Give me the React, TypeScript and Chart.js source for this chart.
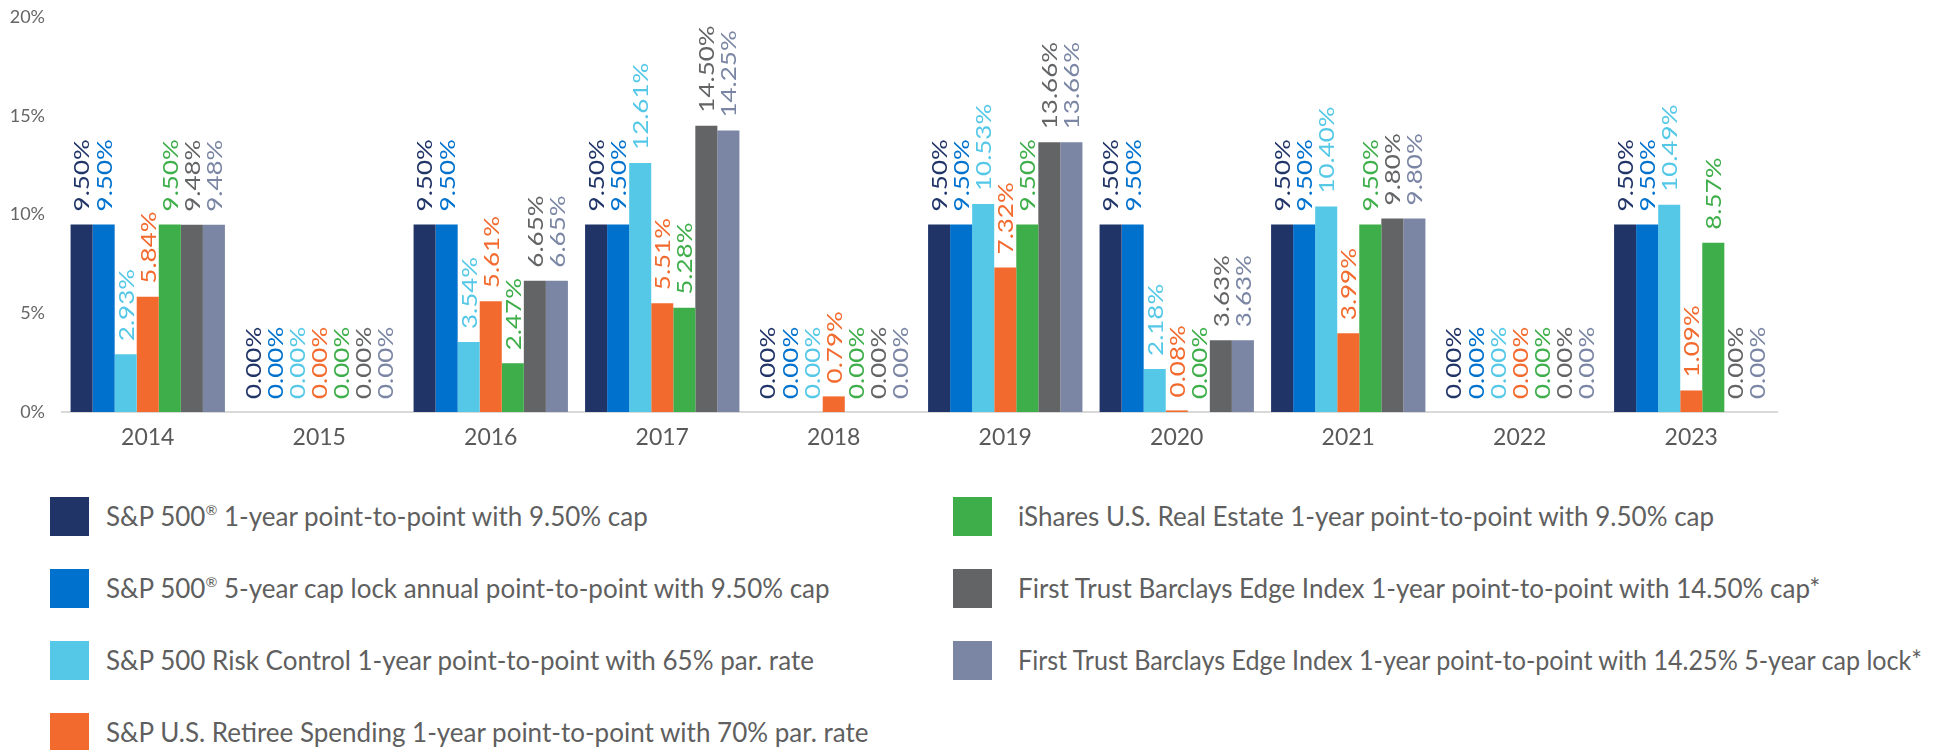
import React, { useEffect, useRef } from "react";
import { Chart, registerables } from "chart.js";

Chart.register(...registerables);

const years = ["2014", "2015", "2016", "2017", "2018", "2019", "2020", "2021", "2022", "2023"];

const sp500OneYear = [9.5, 0, 9.5, 9.5, 0, 9.5, 9.5, 9.5, 0, 9.5];
const sp500FiveYearLock = [9.5, 0, 9.5, 9.5, 0, 9.5, 9.5, 9.5, 0, 9.5];
const sp500RiskControl = [2.93, 0, 3.54, 12.61, 0, 10.53, 2.18, 10.4, 0, 10.49];
const retireeSpending = [5.84, 0, 5.61, 5.51, 0.79, 7.32, 0.08, 3.99, 0, 1.09];
const realEstate = [9.5, 0, 2.47, 5.28, 0, 9.5, 0, 9.5, 0, 8.57];
const edgeIndexCap = [9.48, 0, 6.65, 14.5, 0, 13.66, 3.63, 9.8, 0, 0];
const edgeIndexLock = [9.48, 0, 6.65, 14.25, 0, 13.66, 3.63, 9.8, 0, 0];

const seriesValues = [
  sp500OneYear,
  sp500FiveYearLock,
  sp500RiskControl,
  retireeSpending,
  realEstate,
  edgeIndexCap,
  edgeIndexLock,
];

const seriesLabels = [
  "S&P 500® 1-year point-to-point with 9.50% cap",
  "S&P 500® 5-year cap lock annual point-to-point with 9.50% cap",
  "S&P 500 Risk Control 1-year point-to-point with 65% par. rate",
  "S&P U.S. Retiree Spending 1-year point-to-point with 70% par. rate",
  "iShares U.S. Real Estate 1-year point-to-point with 9.50% cap",
  "First Trust Barclays Edge Index 1-year point-to-point with 14.50% cap*",
  "First Trust Barclays Edge Index 1-year point-to-point with 14.25% 5-year cap lock*",
];

const seriesColors = ["#213468", "#0072CE", "#55C8E8", "#F26A2E", "#3DAE49", "#636466", "#7A86A4"];

const yTicks = [0, 5, 10, 15, 20];

const FONT = "Lato, 'Noto Sans', sans-serif";

const valueLabelPlugin = {
  id: "valueLabels",
  afterDatasetsDraw(chart: any) {
    const ctx = chart.ctx;
    chart.data.datasets.forEach((ds: any, di: number) => {
      const meta = chart.getDatasetMeta(di);
      meta.data.forEach((bar: any, i: number) => {
        const v = ds.data[i];
        ctx.save();
        ctx.translate(bar.x, bar.y - 13);
        ctx.rotate(-Math.PI / 2);
        ctx.scale(1, 0.84);
        ctx.font = `26px ${FONT}`;
        ctx.fillStyle = ds.backgroundColor;
        ctx.textAlign = "left";
        ctx.textBaseline = "middle";
        ctx.fillText(v.toFixed(2) + "%", 0, 1);
        ctx.restore();
      });
    });
  },
};

function LegendText({ text }: { text: string }) {
  const parts = text.split("®");
  return (
    <>
      {parts.map((p, i) => (
        <React.Fragment key={i}>
          {p}
          {i < parts.length - 1 && (
            <sup style={{ fontSize: "0.55em", verticalAlign: "0", position: "relative", top: "-0.75em" }}>®</sup>
          )}
        </React.Fragment>
      ))}
    </>
  );
}

export default function App() {
  const canvasRef = useRef<HTMLCanvasElement>(null);
  const legendRefs = useRef<(HTMLSpanElement | null)[]>([]);

  useEffect(() => {
    const canvas = canvasRef.current;
    if (!canvas) return;
    const chart = new Chart(canvas, {
      type: "bar",
      data: {
        labels: years,
        datasets: seriesValues.map((vals, i) => ({
          label: seriesLabels[i],
          data: vals,
          backgroundColor: seriesColors[i],
          borderWidth: 0,
          categoryPercentage: 0.9,
          barPercentage: 1.0,
        })),
      },
      options: {
        animation: false,
        responsive: false,
        devicePixelRatio: 1,
        layout: { padding: { left: 0, right: 159, top: 17, bottom: 8 } },
        plugins: {
          legend: { display: false },
          tooltip: { enabled: false },
        },
        scales: {
          x: {
            grid: { display: false, drawTicks: false },
            border: { display: true, color: "#d9d9d9", width: 2 },
            ticks: {
              color: "#595959",
              font: { family: FONT, size: 23 },
              padding: 12,
            },
            afterFit: (s: any) => {
              s.height = 50;
              s.paddingLeft = 0;
              s.paddingRight = 0;
            },
          },
          y: {
            min: 0,
            max: 20,
            afterBuildTicks: (s: any) => {
              s.ticks = yTicks.map((v) => ({ value: v }));
            },
            grid: { display: false, drawTicks: false },
            border: { display: false },
            ticks: {
              color: "#666666",
              font: { family: FONT, size: 18 },
              padding: 17,
              callback: (v: any) => v + "%",
            },
            afterFit: (s: any) => {
              s.width = 62;
              s.paddingTop = 0;
              s.paddingBottom = 0;
            },
          },
        },
      },
      plugins: [valueLabelPlugin],
    });

    // keep long legend entries inside the page width
    legendRefs.current.forEach((el) => {
      if (!el) return;
      const r = el.getBoundingClientRect();
      const limit = 1922;
      if (r.right > limit) {
        const k = (limit - r.left) / r.width;
        el.style.display = "inline-block";
        el.style.transformOrigin = "left center";
        el.style.transform = `scaleX(${k})`;
      }
    });

    return () => chart.destroy();
  }, []);

  const col1 = [0, 1, 2, 3];
  const col2 = [4, 5, 6];
  const rowTop = (r: number) => 497 + r * 72;

  const item = (idx: number, r: number, swX: number, txX: number) => (
    <div key={idx}>
      <div
        style={{
          position: "absolute",
          left: swX,
          top: rowTop(r),
          width: 39,
          height: 39,
          background: seriesColors[idx],
        }}
      />
      <div
        style={{
          position: "absolute",
          left: txX,
          top: rowTop(r),
          height: 39,
          lineHeight: "39px",
          fontFamily: FONT,
          fontSize: 26,
          color: "#5f5f5f",
          whiteSpace: "nowrap",
        }}
      >
        <span ref={(el) => { legendRefs.current[idx] = el; }} style={{ display: "inline-block" }}>
          <LegendText text={seriesLabels[idx]} />
        </span>
      </div>
    </div>
  );

  return (
    <div style={{ position: "fixed", left: 0, top: 0, width: 1936, height: 750, background: "#fff", overflow: "hidden" }}>
      <canvas ref={canvasRef} width={1936} height={470} style={{ position: "absolute", left: 0, top: 0 }} />
      {col1.map((idx, r) => item(idx, r, 50, 106))}
      {col2.map((idx, r) => item(idx, r, 953, 1018))}
    </div>
  );
}
